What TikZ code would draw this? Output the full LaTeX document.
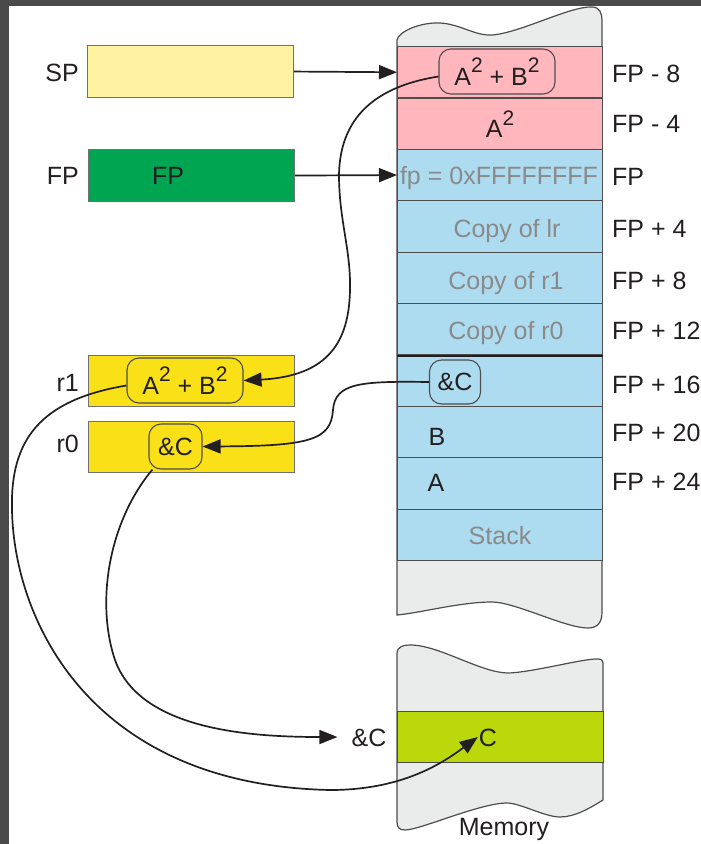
\documentclass[tikz,border=0pt]{standalone}
\usepackage{fontspec}
\setmainfont{Liberation Sans}
\usetikzlibrary{arrows.meta}
\definecolor{frame}{HTML}{4A4A4A}
\definecolor{spfill}{HTML}{FFF2A1}
\definecolor{fpfill}{HTML}{00A551}
\definecolor{regfill}{HTML}{F9E017}
\definecolor{pinkrow}{HTML}{FFB7BD}
\definecolor{bluerow}{HTML}{ADDCF1}
\definecolor{memgray}{HTML}{EAEBEB}
\definecolor{cfill}{HTML}{BAD80A}
\definecolor{ink}{HTML}{231F20}
\definecolor{dimtext}{HTML}{8A8A8A}
\definecolor{edge}{HTML}{4D4D4D}
\newcommand{\sqtwo}{\raisebox{12.5pt}{\fontsize{21}{21}\selectfont 2}}
\begin{document}
\begin{tikzpicture}[x=1pt,y=-1pt,
  reg/.style={draw=edge!80, line width=1.1pt, minimum width=206pt, minimum height=52pt, inner sep=0pt, anchor=north west},
  cell/.style={draw=edge, line width=1.1pt, minimum width=205pt, minimum height=51.4pt, inner sep=0pt, anchor=north west},
  pill/.style={draw=edge, line width=1.1pt, rounded corners=12pt, inner sep=0pt, font=\fontsize{25}{30}\selectfont, text=ink},
  lbl/.style={inner sep=0pt, font=\fontsize{25}{30}\selectfont, text=ink, text height=18pt, text depth=0pt},
  suplbl/.style={inner sep=0pt, font=\fontsize{25}{30}\selectfont, text=ink},
  dim/.style={lbl, text=dimtext},
  ptr/.style={line width=1.7pt, draw=ink, -{Triangle[length=18pt,width=14pt]}}]

\useasboundingbox (0,0) rectangle (701,844);
\fill[white] (0,0) rectangle (701,844);
% frame strips
\fill[frame] (0,0) rectangle (701,6);
\fill[frame] (0,0) rectangle (9,844);

% registers
\node[reg, fill=spfill] (sp) at (87,45) {};
\node[reg, fill=fpfill] (fp) at (88,149) {};
\node[reg, fill=regfill, minimum height=51pt] (r1) at (88,355) {};
\node[reg, fill=regfill, minimum height=51pt] (r0) at (88,421) {};
\node[lbl, anchor=east] (splbl) at (79,72) {SP};
\node[lbl, anchor=east] (fplbl) at (79,175) {FP};
\node[lbl, anchor=east] (r1lbl) at (79,382) {r1};
\node[lbl, anchor=east] (r0lbl) at (79,443) {r0};
\node[lbl] (fpval) at (168,175) {FP};
\node[pill, fill=regfill, minimum width=116pt, minimum height=45pt] (r1val) at (185,380.5) {A\sqtwo{} + B\sqtwo};
\node[pill, fill=regfill, minimum width=53pt, minimum height=45pt] (r0val) at (175.5,446.5) {\&C};

% stack outline (wavy top and bottom)
\path[fill=memgray, draw=edge, line width=1.2pt]
  (397,615) -- (397,40)
  .. controls (398,32) and (420,22) .. (440,23)
  .. controls (460,24) and (475,36) .. (492,35)
  .. controls (520,33) and (570,6) .. (592,7)
  .. controls (600,7) and (602,14) .. (602,20)
  -- (602,612)
  .. controls (602,622) and (598,628) .. (588,628)
  .. controls (565,628) and (515,602) .. (492,602)
  .. controls (460,602) and (420,613) .. (397,615) -- cycle;

% stack cells
\node[cell, fill=pinkrow] (s1) at (397,46) {};
\node[cell, fill=pinkrow] (s2) at (397,97.4) {};
\node[cell, fill=bluerow] (s3) at (397,148.8) {};
\node[cell, fill=bluerow] (s4) at (397,200.2) {};
\node[cell, fill=bluerow] (s5) at (397,251.6) {};
\node[cell, fill=bluerow] (s6) at (397,303) {};
\node[cell, fill=bluerow] (s7) at (397,354.4) {};
\node[cell, fill=bluerow] (s8) at (397,405.8) {};
\node[cell, fill=bluerow] (s9) at (397,457.2) {};
\node[cell, fill=bluerow] (s10) at (397,508.6) {};
\draw[line width=2pt, ink] (s6.south west) -- (s6.south east);

% stack contents
\node[pill, fill=pinkrow, minimum width=116pt, minimum height=45pt] (sab) at (497,71.5) {A\sqtwo{} + B\sqtwo};
\node[suplbl] (sa2) at (500,124) {A\sqtwo};
\node[dim] (sfp) at (499,175) {fp = 0xFFFFFFFF};
\node[dim] (slr) at (507,228) {Copy of lr};
\node[dim] (sr1) at (506,280) {Copy of r1};
\node[dim] (sr0) at (506,330) {Copy of r0};
\node[pill, fill=bluerow, minimum width=51pt, minimum height=44pt] (sc) at (455,382) {\&C};
\node[lbl] (sb) at (437,436) {B};
\node[lbl] (sa) at (436,482) {A};
\node[dim] (sst) at (500,535) {Stack};

% frame offsets
\node[lbl, anchor=west] (o1) at (612,73) {FP - 8};
\node[lbl, anchor=west] (o2) at (612,123) {FP - 4};
\node[lbl, anchor=west] (o3) at (612,176) {FP};
\node[lbl, anchor=west] (o4) at (612,228) {FP + 4};
\node[lbl, anchor=west] (o5) at (612,280) {FP + 8};
\node[lbl, anchor=west] (o6) at (612,330) {FP + 12};
\node[lbl, anchor=west] (o7) at (612,384) {FP + 16};
\node[lbl, anchor=west] (o8) at (612,432) {FP + 20};
\node[lbl, anchor=west] (o9) at (612,481) {FP + 24};

% memory block
\path[fill=memgray, draw=edge, line width=1.2pt]
  (397,822) -- (397,653)
  .. controls (398,646) and (403,645) .. (412,645)
  .. controls (440,646) and (480,672) .. (507,673)
  .. controls (530,673) and (585,658) .. (598,659)
  .. controls (602,659) and (603,661) .. (603,663)
  -- (603,800)
  .. controls (590,808) and (575,817) .. (560,817)
  .. controls (545,817) and (520,803) .. (507,803)
  .. controls (480,803) and (420,830) .. (405,830)
  .. controls (399,830) and (397,827) .. (397,822) -- cycle;
\node[cell, fill=cfill, minimum width=206pt, minimum height=51pt] (cband) at (397,711) {};
\node[lbl, inner sep=1pt] (cval) at (488,737) {C};
\node[lbl, inner xsep=14pt] (cref) at (369,737) {\&C};
\node[lbl] (memlbl) at (504,826) {Memory};

% pointers
\draw[ptr] (sp.east) -- (s1.west);
\draw[ptr] (fp.east) -- (s3.west);
\draw[ptr] ([yshift=-5pt]sab.west)
  .. controls (385,85) and (340,110) .. (339,175)
  .. controls (339,220) and (351,250) .. (350,290)
  .. controls (349,340) and (330,376) .. (r1val.east);
\draw[ptr] (sc.west)
  .. controls (360,381) and (335,383) .. (333,410)
  .. controls (331,440) and (310,446) .. (r0val.east);
\draw[ptr] ([yshift=-5pt]r1val.west)
  .. controls (40,400) and (10,440) .. (12,510)
  .. controls (14,620) and (90,785) .. (330,790)
  .. controls (400,790) and (440,765) .. (cval.west);
\draw[ptr] (r0val.225)
  .. controls (110,520) and (95,600) .. (115,660)
  .. controls (140,730) and (250,737) .. (cref.west);
\end{tikzpicture}
\end{document}
